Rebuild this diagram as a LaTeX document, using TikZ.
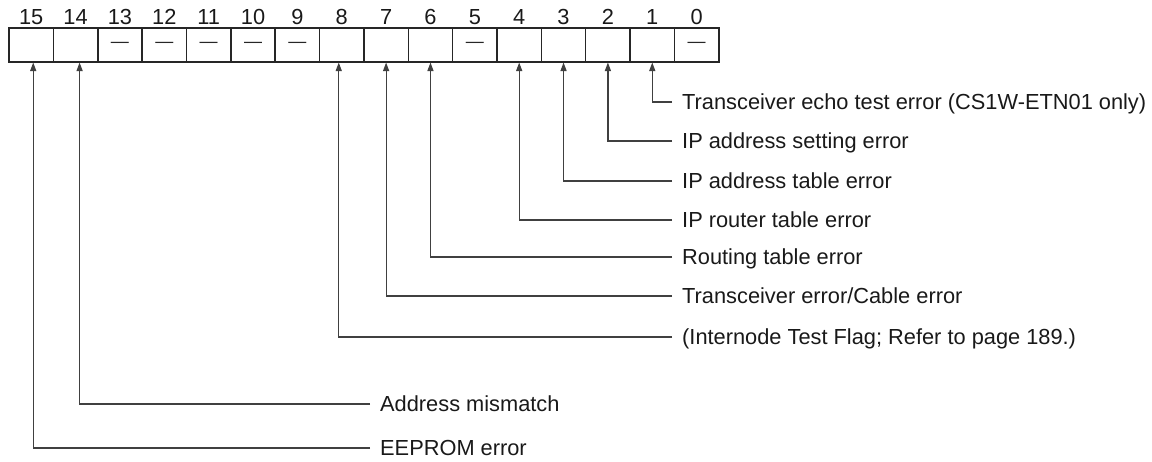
\documentclass[tikz,border=0pt]{standalone}
\usepackage{fontspec}
\setmainfont{Liberation Sans}
\usetikzlibrary{arrows.meta}

\begin{document}
\begin{tikzpicture}[x=1pt,y=-1pt,
  bitcell/.style={draw=black!85,line width=1.5pt,minimum width=44.36pt,minimum height=34pt,inner sep=0pt,anchor=north west},
  bitnum/.style={font=\fontsize{21.8}{24}\selectfont,text=black!90,text height=15.6pt,text depth=0pt,inner sep=0pt},
  unused/.style={font=\fontsize{18}{20}\selectfont,text=black!85,inner sep=0pt},
  lbl/.style={anchor=west,font=\fontsize{21.8}{24}\selectfont,text=black!90,text height=15.6pt,text depth=0pt,inner xsep=10pt,inner ysep=0pt},
  leader/.style={draw=black!75,line width=1.2pt,-{Triangle[length=8.5pt,width=6pt]}}]
  \useasboundingbox (0,0) rectangle (1152,461);

  % Bit cells with bit numbers above
  \foreach \b in {15,...,0} {
    \pgfmathsetmacro\xl{8.3+44.36*(15-\b)}
    \node[bitcell] (b\b) at (\xl,27) {};
    \node[bitnum] (n\b) at ([yshift=10pt]b\b.north) {\b};
  }

  % Unused bits
  \foreach \b in {13,12,11,10,9,5,0}
    \node[unused] (d\b) at (b\b.center) {—};

  % Labels
  \node[lbl] (l1) at (672,102) {Transceiver echo test error (CS1W-ETN01 only)};
  \node[lbl] (l2) at (672,141) {IP address setting error};
  \node[lbl] (l3) at (672,181) {IP address table error};
  \node[lbl] (l4) at (672,220) {IP router table error};
  \node[lbl] (l6) at (672,257) {Routing table error};
  \node[lbl] (l7) at (672,296) {Transceiver error/Cable error};
  \node[lbl] (l8) at (672,337) {(Internode Test Flag; Refer to page 189.)};
  \node[lbl] (l14) at (370,404) {Address mismatch};
  \node[lbl] (l15) at (370,448) {EEPROM error};

  % Leader lines up to the bits
  \draw[leader] (l1.west) -| (b1.south);
  \draw[leader] (l2.west) -| (b2.south);
  \draw[leader] (l3.west) -| (b3.south);
  \draw[leader] (l4.west) -| (b4.south);
  \draw[leader] (l6.west) -| (b6.south);
  \draw[leader] (l7.west) -| (b7.south);
  \draw[leader] (l8.west) -| ([xshift=-3pt]b8.south);
  \draw[leader] (l14.west) -| ([xshift=4pt]b14.south);
  \draw[leader] (l15.west) -| ([xshift=2pt]b15.south);
\end{tikzpicture}
\end{document}
